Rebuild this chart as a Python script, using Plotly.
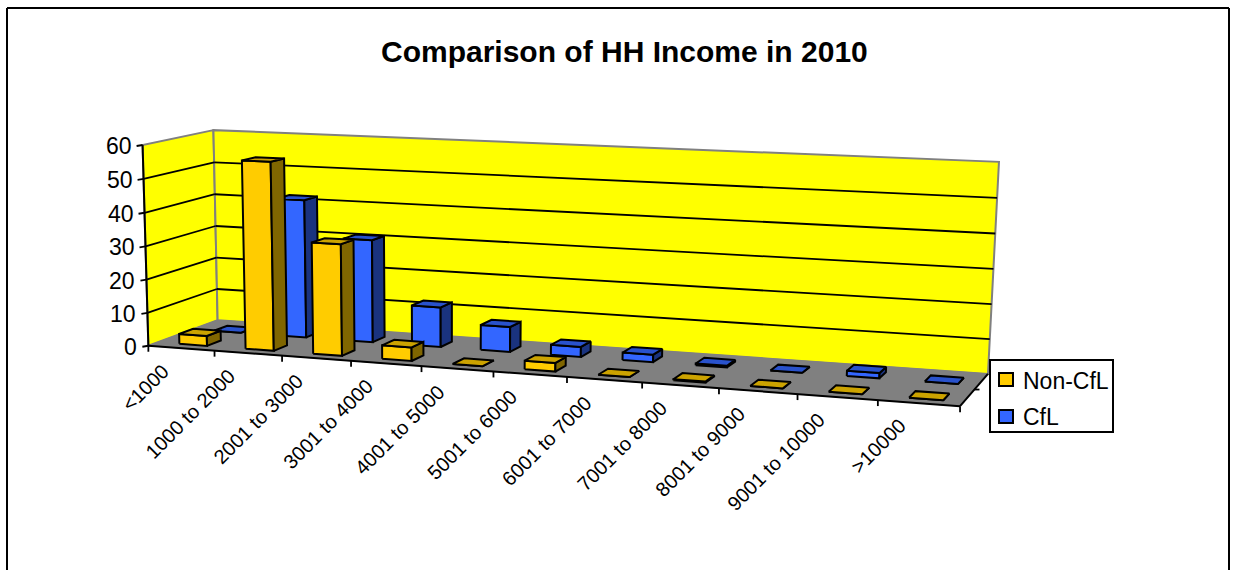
import numpy as np
import plotly.graph_objects as go

# Household income bands and the share of households in each group
categories = ["<1000", "1000 to 2000", "2001 to 3000", "3001 to 4000", "4001 to 5000",
              "5001 to 6000", "6001 to 7000", "7001 to 8000", "8001 to 9000",
              "9001 to 10000", ">10000"]
non_cfl = [3, 56, 33, 4, 0, 2.5, 0, 0.3, 0, 0, 0]
cfl = [0, 42, 31, 12, 7.5, 3, 2.2, 0.5, 0, 1.5, 0]
value_ticks = [0, 10, 20, 30, 40, 50, 60]
series_names = ["Non-CfL", "CfL"]

FONT = "Liberation Sans"
GOLD = ("#FFCC00", "#CCA300", "#806600")
BLUE = ("#3366FF", "#2952CC", "#1A337F")

# Camera calibration: box corners (u, depth, value) and where they land on the page
box = [(0, 0, 0), (0, 0, 60), (0, 1, 0), (0, 1, 60), (1, 0, 0), (1, 1, 0), (1, 1, 60)]
page = [(148, 345), (143, 145), (218, 321), (213, 130), (960, 407), (988, 373), (999, 162)]
A, b = [], []
for (u, d, z), (px, py) in zip(box, page):
    w = (u, d, z / 60, 1)
    A.append([*w, 0, 0, 0, 0, -px * u, -px * d, -px * z / 60])
    b.append(px)
    A.append([0, 0, 0, 0, *w, -py * u, -py * d, -py * z / 60])
    b.append(py)
h = np.linalg.lstsq(np.array(A, float), np.array(b, float), rcond=None)[0]
P = np.append(h, 1).reshape(3, 4)


def project(u, d, z):
    v = P @ np.array([u, d, z / 60, 1])
    return v[0] / v[2], v[1] / v[2]


def path(points):
    xy = [project(*p) for p in points]
    xy.append(xy[0])
    return [q[0] for q in xy], [q[1] for q in xy]


def polygon(points, fill, line="#000000", width=2):
    xs, ys = path(points)
    return go.Scatter(x=xs, y=ys, mode="lines", fill="toself", fillcolor=fill,
                      line=dict(color=line, width=width), hoverinfo="skip", showlegend=False)


def segment(a, b, color="#000000", width=1.8):
    pa, pb = project(*a), project(*b)
    return go.Scatter(x=[pa[0], pb[0]], y=[pa[1], pb[1]], mode="lines",
                      line=dict(color=color, width=width), hoverinfo="skip", showlegend=False)


fig = go.Figure()

# Walls and floor
fig.add_trace(polygon([(0, 0, 0), (0, 1, 0), (0, 1, 60), (0, 0, 60)], "#FFFF00", "#808080", 2))
fig.add_trace(polygon([(0, 1, 0), (1, 1, 0), (1, 1, 60), (0, 1, 60)], "#FFFF00", "#808080", 2))
fig.add_trace(polygon([(0, 0, 0), (1, 0, 0), (1, 1, 0), (0, 1, 0)], "#808080", "#808080", 1))

# Gridlines run along the side wall, then across the back wall
for t in value_ticks[1:-1]:
    fig.add_trace(segment((0, 0, t), (0, 1, t)))
    fig.add_trace(segment((0, 1, t), (1, 1, t)))

# Axis lines and tick marks
fig.add_trace(segment((0, 0, 0), (0, 0, 60), width=2))
fig.add_trace(segment((0, 0, 0), (1, 0, 0), width=2))
fig.add_trace(segment((1, 0, 0), (1, 1, 0), width=2))

n = len(categories)
annotations = []
for t in value_ticks:
    x0, y0 = project(0, 0, t)
    fig.add_trace(go.Scatter(x=[x0 - 6, x0], y=[y0 + 1, y0], mode="lines",
                             line=dict(color="#000000", width=1.8), hoverinfo="skip", showlegend=False))
    annotations.append(dict(x=x0 - 9, y=y0 + 1, text=str(t), xanchor="right", yanchor="middle",
                            showarrow=False, font=dict(family=FONT, size=23, color="#000000")))
for i in range(n + 1):
    x0, y0 = project(i / n, 0, 0)
    fig.add_trace(go.Scatter(x=[x0, x0], y=[y0, y0 + 6], mode="lines",
                             line=dict(color="#000000", width=1.8), hoverinfo="skip", showlegend=False))
for i, label in enumerate(categories):
    x0, y0 = project((i + 0.5) / n, 0, 0)
    annotations.append(dict(x=x0 - 6, y=y0 + 9, text=label, textangle=-45, xanchor="right", yanchor="top",
                            showarrow=False, font=dict(family=FONT, size=20, color="#000000")))

# Series-axis tick between the two rows
x0, y0 = project(1, 0.5, 0)
fig.add_trace(go.Scatter(x=[x0, x0 + 5], y=[y0, y0], mode="lines",
                         line=dict(color="#000000", width=1.8), hoverinfo="skip", showlegend=False))

# Columns: the rear series first so the front series overlaps it
BAR_HALF = 0.21
BAR_SHIFT = 0.04
rows = [(cfl, BLUE, 0.63, 0.83), (non_cfl, GOLD, 0.13, 0.33)]
for values, (front, top, side), d0, d1 in rows:
    for i, v in enumerate(values):
        u0 = (i + 0.5 + BAR_SHIFT - BAR_HALF) / n
        u1 = (i + 0.5 + BAR_SHIFT + BAR_HALF) / n
        fig.add_trace(polygon([(u0, d0, 0), (u1, d0, 0), (u1, d0, v), (u0, d0, v)], front))
        fig.add_trace(polygon([(u1, d0, 0), (u1, d1, 0), (u1, d1, v), (u1, d0, v)], side))
        fig.add_trace(polygon([(u0, d0, v), (u1, d0, v), (u1, d1, v), (u0, d1, v)], top))

# Title
annotations.append(dict(x=624, y=51, text="<b>Comparison of HH Income in 2010</b>", xanchor="center",
                        yanchor="middle", showarrow=False, font=dict(family=FONT, size=30, color="#000000")))

# Legend box and entries
shapes = [
    dict(type="rect", x0=990, x1=1113, y0=360, y1=432, fillcolor="#FFFFFF", line=dict(color="#000000", width=2)),
    dict(type="rect", x0=999, x1=1013, y0=373, y1=386, fillcolor=GOLD[0], line=dict(color="#000000", width=2)),
    dict(type="rect", x0=999, x1=1013, y0=410, y1=423, fillcolor=BLUE[0], line=dict(color="#000000", width=2)),
    # Chart-area frame, running off the bottom of the page
    dict(type="line", x0=7, x1=7, y0=8, y1=570, line=dict(color="#000000", width=2)),
    dict(type="line", x0=7, x1=1229, y0=8, y1=8, line=dict(color="#000000", width=2)),
    dict(type="line", x0=1229, x1=1229, y0=8, y1=570, line=dict(color="#000000", width=2)),
]
for name, y in zip(series_names, (381, 417)):
    annotations.append(dict(x=1021, y=y, text=name, xanchor="left", yanchor="middle", showarrow=False,
                            font=dict(family=FONT, size=23, color="#000000")))

fig.update_layout(
    width=1235, height=570, margin=dict(l=0, r=0, t=0, b=0),
    paper_bgcolor="#FFFFFF", plot_bgcolor="#FFFFFF", showlegend=False,
    xaxis=dict(range=[0, 1235], visible=False, fixedrange=True),
    yaxis=dict(range=[570, 0], visible=False, fixedrange=True),
    annotations=annotations, shapes=shapes,
)
fig.write_html("out.html")
